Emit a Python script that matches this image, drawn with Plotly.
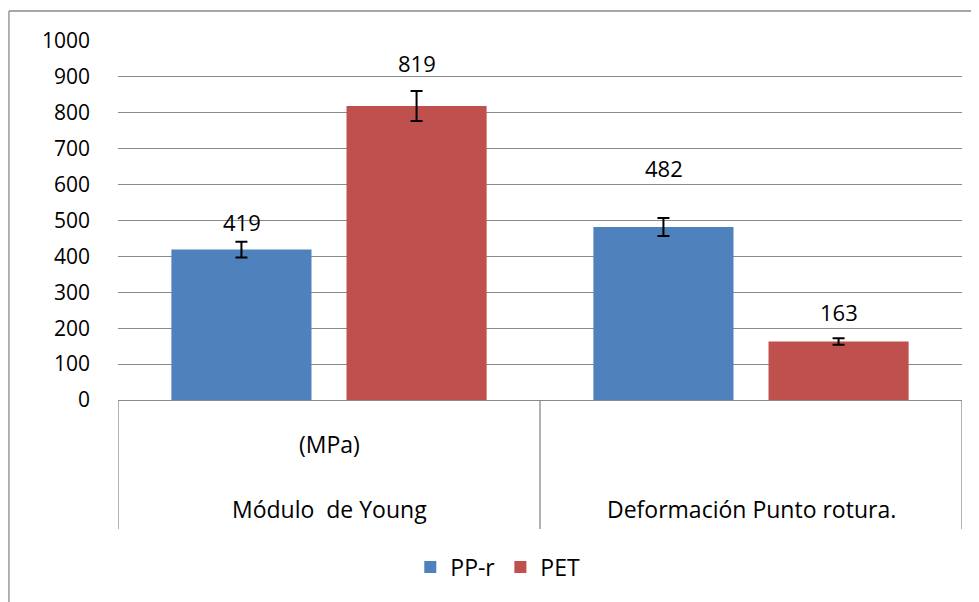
import plotly.graph_objects as go

categories = ["Módulo  de Young", "Deformación Punto rotura."]
sub_labels = ["(MPa)", ""]
series_names = ["PP-r", "PET"]
pp_r_values = [419, 482]
pet_values = [819, 163]
pp_r_errors = [22, 25]
pet_errors = [42, 9]
y_ticks = [0, 100, 200, 300, 400, 500, 600, 700, 800, 900, 1000]

# label vertical offsets (px above bar top), style only
pp_r_label_shift = [28, 59]
pet_label_shift = [43, 29]

FONT = "Open Sans"
GRID = "#898989"
blue = "#4F81BD"
red = "#C0504D"

fig = go.Figure()
fig.add_trace(go.Bar(
    name=series_names[0], x=categories, y=pp_r_values, marker=dict(color=blue, line=dict(width=0)),
    error_y=dict(type="data", array=pp_r_errors, color="black", thickness=2, width=6),
    offsetgroup="a",
))
fig.add_trace(go.Bar(
    name=series_names[1], x=categories, y=pet_values, marker=dict(color=red, line=dict(width=0)),
    error_y=dict(type="data", array=pet_errors, color="black", thickness=2, width=6),
    offsetgroup="b",
))

annotations = []
n = len(categories)
for i in range(n):
    annotations.append(dict(x=i, xref="x", y=pp_r_values[i], yref="y", text=str(pp_r_values[i]),
                            showarrow=False, xshift=-87.5, yshift=pp_r_label_shift[i],
                            font=dict(family=FONT, size=22, color="black"), yanchor="middle"))
    annotations.append(dict(x=i, xref="x", y=pet_values[i], yref="y", text=str(pet_values[i]),
                            showarrow=False, xshift=87.5, yshift=pet_label_shift[i],
                            font=dict(family=FONT, size=22, color="black"), yanchor="middle"))
for i in range(n):
    if sub_labels[i]:
        annotations.append(dict(x=i, xref="x", y=-0.1226, yref="paper", text=sub_labels[i],
                                showarrow=False, font=dict(family=FONT, size=23, color="black"),
                                yanchor="middle"))
    annotations.append(dict(x=i, xref="x", y=-0.3036, yref="paper", text=categories[i],
                            showarrow=False, font=dict(family=FONT, size=23, color="black"),
                            yanchor="middle"))

shapes = []
for b in [-0.5 + k for k in range(n + 1)]:
    shapes.append(dict(type="line", xref="x", yref="paper", x0=b, x1=b, y0=0, y1=-0.359,
                       line=dict(color=GRID, width=1.3)))
# outer chart frame (only top and left edges are visible in the cropped reference)
frame = dict(color="#8a8a8a", width=1.3)
shapes.append(dict(type="line", xref="paper", yref="paper", x0=-0.1292, x1=1.2, y0=1.0836, y1=1.0836,
                   line=frame, layer="below"))
shapes.append(dict(type="line", xref="paper", yref="paper", x0=-0.1292, x1=-0.1292, y0=-0.8, y1=1.0836,
                   line=frame, layer="below"))

fig.update_layout(
    width=971, height=594,
    margin=dict(l=110, r=17, t=33, b=202),
    paper_bgcolor="white", plot_bgcolor="white",
    barmode="group", bargap=0.17, bargroupgap=0.2,
    showlegend=True,
    legend=dict(orientation="h", x=0.45, xanchor="center", y=-0.465, yanchor="middle",
                font=dict(family=FONT, size=23, color="black"), itemwidth=30,
                bgcolor="rgba(0,0,0,0)", traceorder="normal"),
    annotations=annotations,
    shapes=shapes,
    font=dict(family=FONT, size=21, color="black"),
)
fig.update_xaxes(type="category", range=[-0.5, n - 0.5], showticklabels=False, showgrid=False,
                 showline=True, linecolor=GRID, linewidth=1.3, ticks="", zeroline=False)
fig.update_yaxes(range=[0, 1000], tickvals=y_ticks, ticktext=[str(v) for v in y_ticks],
                 showgrid=True, gridcolor=GRID, gridwidth=1.3, zeroline=False, showline=False,
                 ticks="", ticklabelstandoff=27, tickfont=dict(family=FONT, size=21, color="black"))

fig.write_html("out.html")
